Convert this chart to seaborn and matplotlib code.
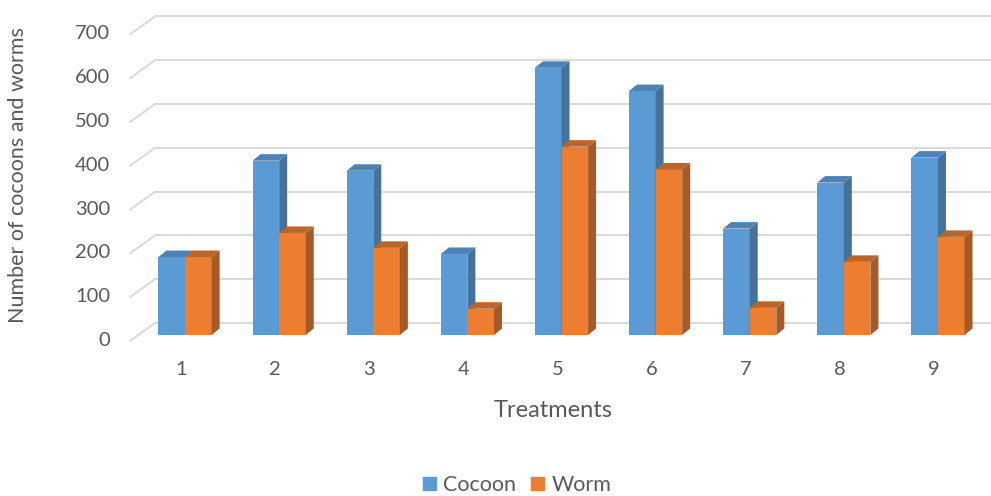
import pandas as pd
import matplotlib.pyplot as plt
import seaborn as sns
from matplotlib.patches import Polygon, Patch
from matplotlib.transforms import offset_copy, ScaledTranslation, IdentityTransform

treatments = ["1", "2", "3", "4", "5", "6", "7", "8", "9"]
cocoon = [178, 398, 375, 185, 610, 557, 243, 348, 405]
worm = [178, 233, 199, 60, 430, 378, 62, 167, 224]
yticks = [0, 100, 200, 300, 400, 500, 600, 700]

df = pd.DataFrame({
    "Treatments": treatments * 2,
    "count": cocoon + worm,
    "type": ["Cocoon"] * len(cocoon) + ["Worm"] * len(worm),
})

front = ["#5B9BD5", "#ED7D31"]
side = ["#45729B", "#A65A26"]
top = ["#4E82B4", "#BA6529"]
grey = "#595959"

sns.set_style("white")
plt.rcParams["font.family"] = ["Lato", "DejaVu Sans"]

fig = plt.figure(figsize=(9.91, 4.96), dpi=100)
ax = fig.add_axes([138 / 991, 161 / 496, 847 / 991, 306.6 / 496])

sns.barplot(data=df, x="Treatments", y="count", hue="type", palette=front,
            saturation=1, width=0.565, gap=0, linewidth=0, ax=ax)
ax.set_ylim(0, 700)
ax.set_xlim(-0.5, 8.5)
ax.set_yticks(yticks)
sns.despine(ax=ax, left=True, bottom=True)
ax.get_legend().remove()

# back wall gridlines + floor diagonals (3D look)
for v in yticks:
    back = offset_copy(ax.get_yaxis_transform(), fig=fig, x=17, y=12, units="dots")
    ax.plot([0, 1], [v, v], transform=back, color="#D9D9D9", lw=1.4, zorder=0, clip_on=False)
    p0 = ax.get_yaxis_transform().transform((0, v))
    ax.add_line(plt.Line2D([p0[0] - 8, p0[0] + 17], [p0[1] - 6, p0[1] + 12],
                           transform=IdentityTransform(), color="#D9D9D9", lw=1.4,
                           zorder=0, clip_on=False))

# side and top faces from the seaborn bars
fig.canvas.draw()
dx, dy = 8, 6.5
for i, cont in enumerate(ax.containers):
    for bar in cont:
        bar.set_zorder(2 + 2 * i)
        x0, y0 = bar.get_x(), bar.get_y()
        x1, y1 = x0 + bar.get_width(), y0 + bar.get_height()
        (ax_, ay_), (bx_, by_) = ax.transData.transform([(x0, y0), (x1, y1)])
        s = Polygon([(bx_, ay_), (bx_, by_), (bx_ + dx, by_ + dy), (bx_ + dx, ay_ + dy)],
                    closed=True, transform=IdentityTransform(), fc=side[i], lw=0,
                    zorder=2.5 + 2 * i, clip_on=False)
        t = Polygon([(ax_, by_), (bx_, by_), (bx_ + dx, by_ + dy), (ax_ + dx, by_ + dy)],
                    closed=True, transform=IdentityTransform(), fc=top[i], lw=0,
                    zorder=2.5 + 2 * i, clip_on=False)
        ax.add_patch(s)
        ax.add_patch(t)

ax.tick_params(axis="y", length=0, pad=20, labelsize=14.5, labelcolor=grey)
ax.tick_params(axis="x", length=0, pad=19, labelsize=14.5, labelcolor=grey)
for lab in ax.get_yticklabels():
    lab.set_transform(lab.get_transform() + ScaledTranslation(0, -4 / 100, fig.dpi_scale_trans))
for lab in ax.get_xticklabels():
    lab.set_transform(lab.get_transform() + ScaledTranslation(-4 / 100, 0, fig.dpi_scale_trans))

ax.set_ylabel("Number of cocoons and worms", fontsize=15.5, color=grey)
ax.yaxis.label.set_va("center")
ax.yaxis.set_label_coords(-0.1417, 0.522)
ax.set_xlabel("Treatments", fontsize=17, color=grey)
ax.xaxis.label.set_va("center")
ax.xaxis.set_label_coords(0.49, -0.245)

handles = [Patch(color=front[0], label="Cocoon"), Patch(color=front[1], label="Worm")]
fig.legend(handles=handles, loc="center", bbox_to_anchor=(0.522, 0.022), ncol=2,
           frameon=False, fontsize=15.5, handlelength=0.6, handleheight=0.6,
           handletextpad=0.35, columnspacing=0.7, labelcolor=grey)

fig.savefig("out.png", dpi=100)
